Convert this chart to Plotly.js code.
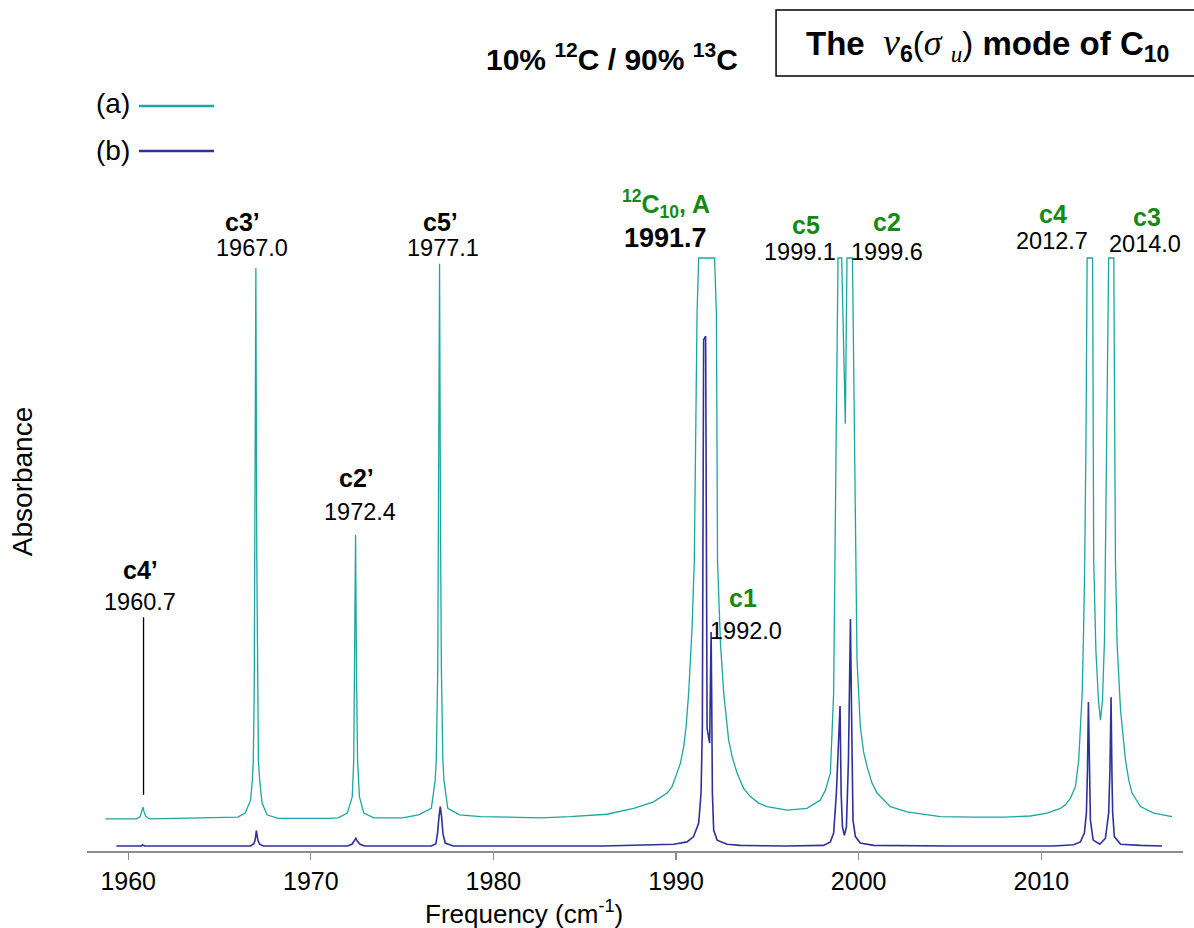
<!DOCTYPE html>
<html>
<head>
<meta charset="utf-8">
<script src="https://cdn.plot.ly/plotly-3.0.1.min.js"></script>
<style>html,body{margin:0;padding:0;background:#fff;}#chart{width:1194px;height:928px;}</style>
</head>
<body>
<div id="chart"></div>
<script>
// ---- data ----
// trace (a): wavenumber (cm-1) and absorbance (arb. units)
var freqA = [1958.75,1960.45,1960.65,1960.75,1960.81,1960.87,1960.97,1961.2,1963.5,1965.5,1966.0,1966.41,1966.7,1966.8,1966.85,1966.9,1966.94,1966.99,1967.04,1967.08,1967.13,1967.2,1967.33,1967.6,1968.2,1971.0,1971.5,1972.0,1972.27,1972.35,1972.40,1972.45,1972.50,1972.56,1972.66,1972.9,1973.45,1975.0,1975.9,1976.6,1976.81,1976.87,1976.95,1977.0,1977.05,1977.1,1977.15,1977.23,1977.29,1977.5,1978.15,1979.3,1981.0,1982.57,1984.21,1986.22,1987.68,1988.77,1989.51,1989.78,1990.05,1990.24,1990.42,1990.55,1990.69,1990.88,1991.0,1991.06,1991.15,1991.24,1992.11,1992.21,1992.25,1992.27,1992.43,1992.61,1992.88,1993.07,1993.34,1993.70,1994.07,1994.52,1994.98,1996.08,1997.17,1997.90,1998.18,1998.45,1998.63,1998.72,1998.76,1998.87,1999.07,1999.27,1999.36,1999.66,1999.78,1999.82,1999.91,2000.09,2000.27,2000.46,2000.73,2001.01,2001.74,2002.65,2004.47,2006.30,2007.94,2009.40,2010.32,2011.05,2011.32,2011.59,2011.87,2012.05,2012.24,2012.32,2012.38,2012.45,2012.51,2012.81,2012.87,2012.99,2013.13,2013.24,2013.35,2013.46,2013.51,2013.62,2013.69,2013.97,2014.02,2014.06,2014.15,2014.34,2014.61,2014.79,2014.97,2015.43,2016.16,2017.16];
var absA  = [0.046,0.046,0.050,0.058,0.066,0.058,0.050,0.046,0.047,0.048,0.049,0.056,0.078,0.112,0.146,0.26,0.50,0.983,0.50,0.26,0.146,0.112,0.073,0.053,0.047,0.047,0.048,0.056,0.084,0.146,0.30,0.529,0.30,0.146,0.084,0.056,0.048,0.048,0.053,0.064,0.112,0.146,0.30,0.55,0.99,0.55,0.30,0.146,0.112,0.064,0.053,0.050,0.049,0.048,0.050,0.054,0.064,0.075,0.090,0.101,0.124,0.141,0.169,0.203,0.26,0.373,0.486,0.690,0.906,1.0,1.0,0.906,0.690,0.486,0.345,0.26,0.18,0.152,0.124,0.098,0.084,0.073,0.067,0.061,0.064,0.078,0.095,0.124,0.26,0.486,0.673,1.0,1.0,0.718,1.0,1.0,0.673,0.486,0.316,0.203,0.160,0.135,0.107,0.090,0.067,0.058,0.050,0.049,0.049,0.051,0.056,0.064,0.070,0.081,0.101,0.146,0.26,0.373,0.486,0.70,1.0,1.0,0.486,0.333,0.248,0.214,0.248,0.35,0.486,0.76,1.0,1.0,0.70,0.486,0.345,0.231,0.146,0.112,0.090,0.067,0.056,0.050];

// trace (b)
var freqB = [1959.35,1960.7,1960.8,1960.9,1966.7,1966.88,1966.95,1967.02,1967.1,1967.2,1967.4,1972.0,1972.25,1972.38,1972.47,1972.55,1972.7,1972.95,1976.6,1976.85,1976.94,1977.02,1977.09,1977.16,1977.24,1977.36,1977.8,1986.0,1988.05,1989.87,1990.60,1990.96,1991.24,1991.37,1991.44,1991.48,1991.51,1991.62,1991.66,1991.70,1991.84,1991.89,1991.92,1991.95,1991.99,1992.06,1992.25,1992.79,1993.52,1996.0,1998.08,1998.45,1998.63,1998.78,1998.87,1998.98,1999.04,1999.11,1999.22,1999.33,1999.44,1999.55,1999.62,1999.69,1999.82,2000.09,2000.82,2005.0,2010.68,2011.77,2012.14,2012.36,2012.47,2012.53,2012.58,2012.63,2012.69,2012.84,2013.20,2013.51,2013.69,2013.76,2013.82,2013.87,2013.91,2014.00,2014.34,2015.43,2016.61];
var absB  = [0.0,0.0,0.002,0.0,0.0,0.004,0.010,0.026,0.010,0.003,0.0,0.0,0.003,0.008,0.013,0.008,0.003,0.0,0.0,0.004,0.022,0.05,0.067,0.05,0.02,0.005,0.0,0.0,0.001,0.003,0.007,0.016,0.039,0.090,0.203,0.486,0.861,0.867,0.486,0.20,0.175,0.316,0.364,0.26,0.09,0.027,0.010,0.003,0.001,0.0,0.001,0.007,0.022,0.09,0.16,0.238,0.09,0.033,0.018,0.033,0.146,0.386,0.203,0.044,0.016,0.005,0.001,0.0,0.0,0.002,0.007,0.022,0.056,0.13,0.245,0.12,0.044,0.010,0.003,0.013,0.056,0.13,0.253,0.12,0.056,0.016,0.003,0.001,0.0];

// axis ticks
var tickVals = [1960,1970,1980,1990,2000,2010];
var tickText = ["1960","1970","1980","1990","2000","2010"];

// peak labels: name, wavenumber text, isotopologue group
var peakNames  = ["c4’","c3’","c2’","c5’","<sup>12</sup>C<sub>10</sub>, A","c5","c2","c1","c4","c3"];
var peakValues = ["1960.7","1967.0","1972.4","1977.1","1991.7","1999.1","1999.6","1992.0","2012.7","2014.0"];
var peakGroup  = ["13C","13C","13C","13C","12C","12C","12C","12C","12C","12C"];

// ---- layout / style (positions of the label texts) ----
var labelPos = [
  {x:1960.66, yn:0.469, xv:1960.62, yv:0.415},
  {x:1966.25, yn:1.061, xv:1966.80, yv:1.017},
  {x:1972.49, yn:0.626, xv:1972.71, yv:0.568},
  {x:1977.09, yn:1.061, xv:1977.25, yv:1.017},
  {x:1989.47, yn:1.092, xv:1989.41, yv:1.034},
  {x:1997.13, yn:1.056, xv:1996.81, yv:1.010},
  {x:2001.57, yn:1.061, xv:2001.57, yv:1.010},
  {x:1993.68, yn:0.422, xv:1993.85, yv:0.366},
  {x:2010.65, yn:1.075, xv:2010.60, yv:1.029},
  {x:2015.80, yn:1.070, xv:2015.69, yv:1.024}
];
var FONT = "Liberation Sans, Arial, sans-serif";
var TEAL = "#1ba6a1", BLUE = "#30309a", GREEN = "#148a14";

var annotations = [];
for (var i = 0; i < peakNames.length; i++) {
  var p = labelPos[i];
  var is12 = peakGroup[i] === "12C";
  annotations.push({x:p.x, y:p.yn, xref:"x", yref:"y", text:"<b>"+peakNames[i]+"</b>", showarrow:false,
    xanchor:"center", yanchor:"middle", font:{family:FONT, size:25, color: is12 ? GREEN : "#000"}});
  var bold = (i === 4);
  annotations.push({x:p.xv, y:p.yv, xref:"x", yref:"y", text: bold ? "<b>"+peakValues[i]+"</b>" : peakValues[i], showarrow:false,
    xanchor:"center", yanchor:"middle", font:{family:FONT, size: bold ? 27 : 23.5, color:"#000"}});
}
// titles and legend texts
annotations.push({xref:"paper", yref:"paper", x:0.479, y:1.201, showarrow:false, xanchor:"center", yanchor:"middle",
  text:"<b>10% <sup>12</sup>C / 90% <sup>13</sup>C</b>", font:{family:FONT, size:30, color:"#000"}});
var SERIF = "font-family:Liberation Serif,Times New Roman,serif;font-style:italic;font-weight:normal;";
annotations.push({xref:"paper", yref:"paper", x:0.822, y:1.221, showarrow:false, xanchor:"center", yanchor:"middle",
  text:"<b>The</b>  <span style='"+SERIF+"font-size:38px'>ν</span><b><sub>6</sub></b>(<span style='"+SERIF+"font-size:36px'>σ</span> <sub><span style='"+SERIF+"'>u</span></sub>)<b> mode of C<sub>10</sub></b>",
  font:{family:FONT, size:33, color:"#000"}});
annotations.push({xref:"paper", yref:"paper", x:0.0237, y:1.1316, showarrow:false, xanchor:"center", yanchor:"middle",
  text:"(a)", font:{family:FONT, size:28, color:"#000"}});
annotations.push({xref:"paper", yref:"paper", x:0.0237, y:1.0605, showarrow:false, xanchor:"center", yanchor:"middle",
  text:"(b)", font:{family:FONT, size:28, color:"#000"}});
annotations.push({xref:"paper", yref:"paper", x:0.3987, y:-0.0923, showarrow:false, xanchor:"center", yanchor:"middle",
  text:"Frequency (cm<sup>-1</sup>)", font:{family:FONT, size:26, color:"#000"}});
annotations.push({xref:"paper", yref:"paper", x:-0.0593, y:0.558, showarrow:false, xanchor:"center", yanchor:"middle",
  textangle:-90, text:"Absorbance", font:{family:FONT, size:28, color:"#000"}});

var shapes = [
  {type:"rect", xref:"paper", yref:"paper", x0:0.6287, x1:1.02, y0:1.1725, y1:1.2723, line:{color:"#000", width:1.5}},
  {type:"line", xref:"paper", yref:"paper", x0:0.0474, x1:0.1159, y0:1.1271, y1:1.1271, line:{color:TEAL, width:2.5}},
  {type:"line", xref:"paper", yref:"paper", x0:0.0474, x1:0.1159, y0:1.0590, y1:1.0590, line:{color:BLUE, width:2.5}},
  {type:"line", xref:"x", yref:"y", x0:1960.84, x1:1960.84, y0:0.389, y1:0.087, line:{color:"#000", width:1.3}}
];

var traces = [
  {x:freqA, y:absA, type:"scatter", mode:"lines", name:"(a)", line:{color:TEAL, width:1.3}, hoverinfo:"skip"},
  {x:freqB, y:absB, type:"scatter", mode:"lines", name:"(b)", line:{color:BLUE, width:1.6}, hoverinfo:"skip"}
];

var layout = {
  width:1194, height:928,
  margin:{l:87, r:11, t:190, b:77},
  paper_bgcolor:"#fff", plot_bgcolor:"#fff",
  showlegend:false,
  font:{family:FONT, color:"#000"},
  xaxis:{range:[1957.744, 2017.76], showgrid:false, zeroline:false, showline:true, linecolor:"#8c8c8c", linewidth:1.5,
    ticks:"outside", ticklen:7, tickwidth:1.3, tickcolor:"#8c8c8c", tickvals:tickVals, ticktext:tickText,
    tickfont:{family:FONT, size:25, color:"#000"}},
  yaxis:{range:[-0.0085, 1.1156], showgrid:false, zeroline:false, showline:false, showticklabels:false, ticks:""},
  annotations:annotations,
  shapes:shapes
};
Plotly.newPlot("chart", traces, layout, {displayModeBar:false, staticPlot:true});
</script>
</body>
</html>
